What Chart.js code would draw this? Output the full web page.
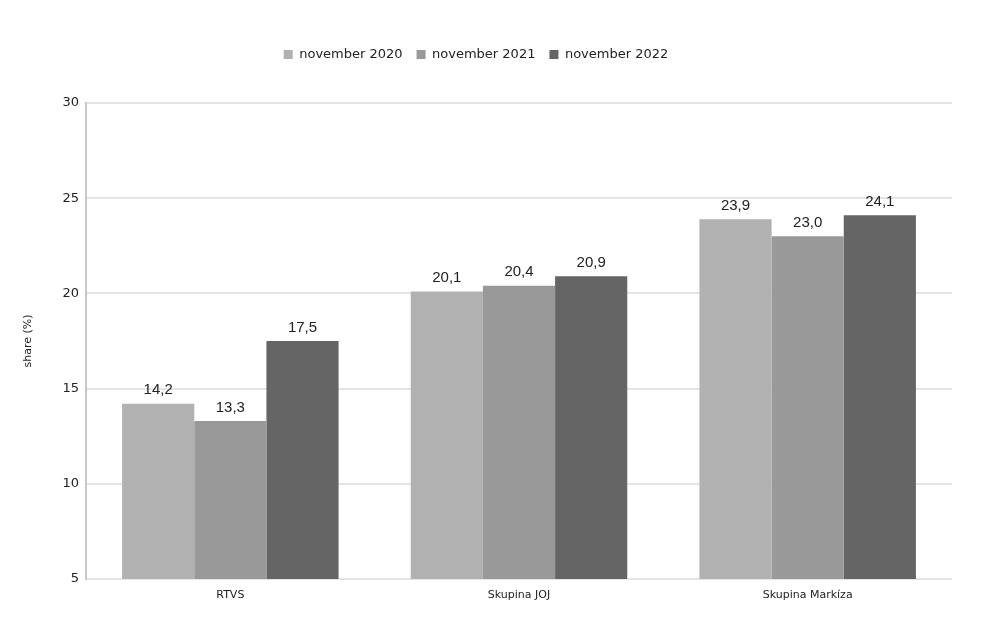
<!DOCTYPE html>
<html>
<head>
<meta charset="utf-8">
<script src="https://cdn.jsdelivr.net/npm/chart.js@4/dist/chart.umd.min.js"></script>
<style>
    html, body { margin: 0; padding: 0; background: #fff; }
    #wrap { width: 985px; height: 631px; }
</style>
</head>
<body>
<div id="wrap"><canvas id="chart"></canvas></div>
<script>
const CATEGORIES = [ 'RTVS', 'Skupina JOJ', 'Skupina Markíza' ]
const SERIES_NAMES = [ 'november 2020', 'november 2021', 'november 2022' ]
const NOV_2020 = [ 14.2, 20.1, 23.9 ]
const NOV_2021 = [ 13.3, 20.4, 23.0 ]
const NOV_2022 = [ 17.5, 20.9, 24.1 ]
const Y_TICKS = [ 5, 10, 15, 20, 25, 30 ]

const COLORS = [ '#b1b1b1', '#999999', '#656565' ]
const FONT = '"DejaVu Sans", Verdana, sans-serif'

//
// Value labels above each bar
//

const valueLabels = {
    id: 'valueLabels',
    afterDatasetsDraw (chart) {
        const ctx = chart.ctx
        ctx.save()
        ctx.font = '15px "Liberation Sans", Arial, sans-serif'
        ctx.fillStyle = '#222'
        ctx.textAlign = 'center'
        ctx.textBaseline = 'bottom'
        chart.data.datasets.forEach((ds, i) => {
            chart.getDatasetMeta(i).data.forEach((bar, j) => {
                const text = ds.data[j].toFixed(1).replace('.', ',')
                ctx.fillText(text, bar.x, bar.y - 6)
            })
        })
        ctx.restore()
    },
}

// leave some room between the legend and the plot
const legendGap = {
    id: 'legendGap',
    beforeInit (chart) {
        const legend = chart.legend
        if (!legend) return
        const fit = legend.fit
        legend.fit = function () {
            fit.call(this)
            this.height += 32
        }
    },
}

const series = [ NOV_2020, NOV_2021, NOV_2022 ]

new Chart(document.getElementById('chart'), {
    type: 'bar',
    data: {
        labels: CATEGORIES,
        datasets: series.map((data, i) => ({
            label: SERIES_NAMES[i],
            data: data,
            backgroundColor: COLORS[i],
            borderWidth: 0,
            categoryPercentage: 0.75,
            barPercentage: 1.0,
        })),
    },
    options: {
        responsive: true,
        maintainAspectRatio: false,
        animation: false,
        layout: { padding: { top: 34, right: 33, bottom: 12, left: 0 } },
        plugins: {
            tooltip: { enabled: false },
            legend: {
                display: true,
                position: 'top',
                labels: {
                    boxWidth: 9,
                    boxHeight: 9,
                    padding: 14,
                    color: '#222',
                    font: { family: FONT, size: 13 },
                },
            },
        },
        scales: {
            x: {
                grid: { display: false },
                border: { display: false },
                ticks: {
                    color: '#222',
                    padding: 2,
                    font: { family: FONT, size: 11 },
                },
                afterFit: (s) => { s.height = 40 },
            },
            y: {
                min: 5,
                max: 30,
                afterBuildTicks: (s) => { s.ticks = Y_TICKS.map((v) => ({ value: v })) },
                grid: { color: '#e4e4e4', lineWidth: 2, drawTicks: false },
                border: { display: true, color: '#c8c8c8', width: 2 },
                ticks: {
                    color: '#222',
                    padding: 7,
                    font: { family: FONT, size: 13 },
                },
                title: {
                    display: true,
                    text: 'share (%)',
                    color: '#222',
                    padding: { top: 22, bottom: 0 },
                    font: { family: FONT, size: 11 },
                },
                afterFit: (s) => { s.width = 86 },
            },
        },
    },
    plugins: [ valueLabels, legendGap ],
})
</script>
</body>
</html>
